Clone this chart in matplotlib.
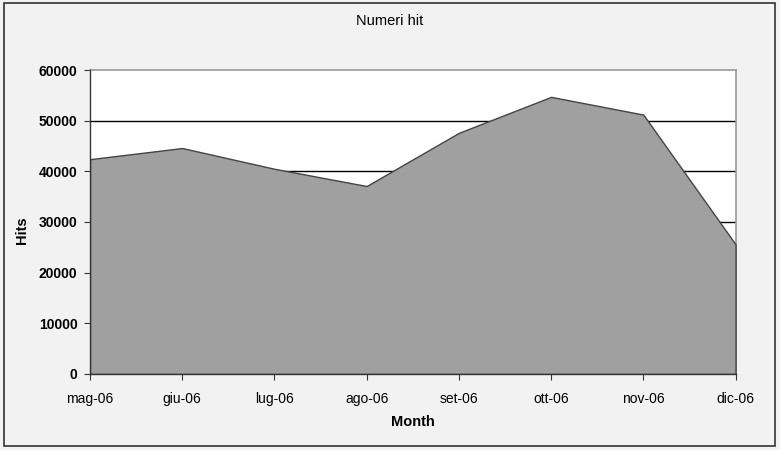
import matplotlib.pyplot as plt
from matplotlib.patches import Rectangle

plt.rcParams['font.family'] = ['Liberation Sans', 'DejaVu Sans']

months = ['mag-06', 'giu-06', 'lug-06', 'ago-06', 'set-06', 'ott-06', 'nov-06', 'dic-06']
hits = [42400, 44600, 40500, 37100, 47600, 54700, 51200, 25600]
yticks = [0, 10000, 20000, 30000, 40000, 50000, 60000]

fig = plt.figure(figsize=(7.8, 4.5), dpi=100, facecolor='#f2f2f2')
fig.patches.append(Rectangle((0.005, 0.008), 0.989, 0.986, transform=fig.transFigure,
                             fill=False, edgecolor='#333333', linewidth=1.2))

ax = fig.add_axes([0.1154, 0.169, 0.8276, 0.6754])
ax.set_facecolor('white')
x = list(range(len(months)))
ax.fill_between(x, hits, 0, facecolor='#a0a0a0', edgecolor='#444444', linewidth=1.0, zorder=3)
for y in yticks[1:-1]:
    ax.axhline(y, color='black', linewidth=1.0, zorder=2)

ax.set_xlim(0, len(months) - 1)
ax.set_ylim(0, 60000)
ax.set_xticks(x)
ax.set_xticklabels(months, fontsize=10)
ax.set_yticks(yticks)
ax.set_yticklabels([str(v) for v in yticks], fontsize=10, fontweight='bold')
ax.tick_params(direction='out', length=4, width=0.8, color='#333333')
ax.tick_params(axis='x', pad=9)
ax.tick_params(axis='y', pad=5)

for side in ['top', 'right']:
    ax.spines[side].set_color('#999999')
    ax.spines[side].set_linewidth(1.2)
for side in ['left', 'bottom']:
    ax.spines[side].set_color('#333333')
    ax.spines[side].set_linewidth(1.0)
ax.spines['left'].set_zorder(4)
ax.spines['bottom'].set_zorder(4)

fig.text(0.529, 0.062, 'Month', ha='center', va='center', fontsize=10.5, fontweight='bold')
fig.text(0.028, 0.488, 'Hits', ha='center', va='center', rotation=90, fontsize=10.5, fontweight='bold')
fig.text(0.5, 0.953, 'Numeri hit', ha='center', va='center', fontsize=10.5)

fig.savefig('out.png', dpi=100, facecolor=fig.get_facecolor())
